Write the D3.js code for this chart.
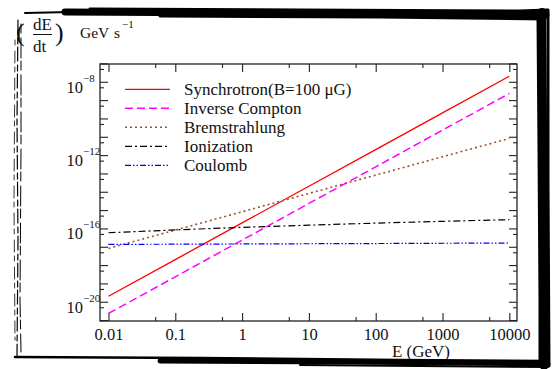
<!DOCTYPE html>
<html>
<head>
<meta charset="utf-8">
<script src="https://cdn.jsdelivr.net/npm/d3@7"></script>
<style>
  body { margin: 0; background: #fff; }
  svg text { font-family: "Liberation Serif", "DejaVu Serif", serif; fill: #111; }
</style>
</head>
<body>
<div id="chart"></div>
<script>
// Data
const energies = [0.01, 0.1, 1, 10, 100, 1000, 10000];
const synchrotron = [2.0e-20, 2.0e-18, 2.0e-16, 2.0e-14, 2.0e-12, 2.0e-10, 2.0e-8];
const inverseCompton = [2.3e-21, 2.3e-19, 2.3e-17, 2.3e-15, 2.3e-13, 2.3e-11, 2.3e-9];
const bremsstrahlung = [8.1e-18, 8.1e-17, 8.1e-16, 8.1e-15, 8.1e-14, 8.1e-13, 8.1e-12];
const ionization = [5.8e-17, 8.3e-17, 1.15e-16, 1.5e-16, 1.95e-16, 2.45e-16, 3.0e-16];
const coulomb = [1.35e-17, 1.38e-17, 1.42e-17, 1.46e-17, 1.5e-17, 1.55e-17, 1.6e-17];

const seriesNames = ["Synchrotron(B=100 \u03bcG)", "Inverse Compton", "Bremstrahlung", "Ionization", "Coulomb"];
const seriesValues = [synchrotron, inverseCompton, bremsstrahlung, ionization, coulomb];

const xMajorTicks = [0.01, 0.1, 1, 10, 100, 1000, 10000];
const xTickLabels = ["0.01", "0.1", "1", "10", "100", "1000", "10000"];
const xMinorTicks = [0.05, 0.5, 5, 50, 500, 5000];
const yMajorTicks = d3.range(-21, -6).map((p) => Math.pow(10, p));
const yMinorTicks = d3.range(-21, -7).map((p) => 5 * Math.pow(10, p));
const yLabelPowers = [-8, -12, -16, -20];

// Styles
const styles = [
  { color: "#ff0000", dash: null, width: 1.3 },
  { color: "#ff00ff", dash: "8,4", width: 1.5 },
  { color: "#a0522d", dash: "2,3", width: 1.6 },
  { color: "#000000", dash: "7,3,2,3", width: 1.2 },
  { color: "#0000ff", dash: "6,2,1.5,2,1.5,2", width: 1.2 },
];

// Dimensions
const dimensions = { width: 557, height: 369, left: 100, right: 517, top: 64, bottom: 321 };

const svg = d3
  .select("#chart")
  .append("svg")
  .attr("width", dimensions.width)
  .attr("height", dimensions.height);

const xScale = d3
  .scaleLog()
  .domain([Math.pow(10, -2.127), Math.pow(10, 4.115)])
  .range([dimensions.left, dimensions.right]);

const yScale = d3
  .scaleLog()
  .domain([Math.pow(10, -21.05), Math.pow(10, -7.03)])
  .range([dimensions.bottom, dimensions.top]);

// Axes
const axisColor = "#222";
function styleAxis(g) {
  g.select(".domain").remove();
  g.selectAll(".tick line").attr("stroke", axisColor).attr("stroke-width", 1.1);
}

svg.append("g")
  .attr("transform", `translate(0, ${dimensions.bottom})`)
  .call(d3.axisBottom(xScale).tickValues(xMajorTicks).tickSize(-8).tickPadding(7)
    .tickFormat((d, i) => xTickLabels[i]))
  .call(styleAxis)
  .call((g) => g.selectAll("text").attr("font-size", 16.5).attr("fill", "#111")
    .attr("font-family", "Liberation Serif, serif"));

svg.append("g")
  .attr("transform", `translate(0, ${dimensions.bottom})`)
  .call(d3.axisBottom(xScale).tickValues(xMinorTicks).tickSize(-4).tickFormat(""))
  .call(styleAxis);

svg.append("g")
  .attr("transform", `translate(0, ${dimensions.top})`)
  .call(d3.axisTop(xScale).tickValues(xMajorTicks).tickSize(-8).tickFormat(""))
  .call(styleAxis);

svg.append("g")
  .attr("transform", `translate(0, ${dimensions.top})`)
  .call(d3.axisTop(xScale).tickValues(xMinorTicks).tickSize(-4).tickFormat(""))
  .call(styleAxis);

[[d3.axisLeft, dimensions.left], [d3.axisRight, dimensions.right]].forEach(([axisFn, xPos]) => {
  svg.append("g")
    .attr("transform", `translate(${xPos}, 0)`)
    .call(axisFn(yScale).tickValues(yMajorTicks.filter((v) => yScale(v) <= dimensions.bottom && yScale(v) >= dimensions.top - 1))
      .tickSize(-8).tickFormat(""))
    .call(styleAxis);
  svg.append("g")
    .attr("transform", `translate(${xPos}, 0)`)
    .call(axisFn(yScale).tickValues(yMinorTicks.filter((v) => yScale(v) <= dimensions.bottom)).tickSize(-4).tickFormat(""))
    .call(styleAxis);
});

// Y tick labels 10^n
const yLabels = svg.append("g");
yLabelPowers.forEach((p) => {
  const yPos = yScale(Math.pow(10, p));
  yLabels.append("text")
    .attr("x", 83).attr("y", yPos + 11)
    .attr("text-anchor", "end").attr("font-size", 16.5)
    .text("10");
  yLabels.append("text")
    .attr("x", 83).attr("y", yPos)
    .attr("font-size", 11)
    .text("\u2212" + Math.abs(p));
});

// Frame
svg.append("rect")
  .attr("x", dimensions.left).attr("y", dimensions.top)
  .attr("width", dimensions.right - dimensions.left)
  .attr("height", dimensions.bottom - dimensions.top)
  .attr("fill", "none").attr("stroke", axisColor).attr("stroke-width", 1.3);

// Lines
const lineGenerator = d3.line()
  .x((d) => xScale(d[0]))
  .y((d) => yScale(d[1]));

seriesValues.forEach((values, i) => {
  svg.append("path")
    .datum(energies.map((e, j) => [e, values[j]]))
    .attr("d", lineGenerator)
    .attr("fill", "none")
    .attr("stroke", styles[i].color)
    .attr("stroke-width", styles[i].width)
    .attr("stroke-dasharray", styles[i].dash);
});

// Legend
const legend = svg.append("g");
seriesNames.forEach((name, i) => {
  const rowY = 89.3 + i * 19;
  legend.append("line")
    .attr("x1", 125).attr("x2", 170).attr("y1", rowY).attr("y2", rowY)
    .attr("stroke", styles[i].color)
    .attr("stroke-width", styles[i].width)
    .attr("stroke-dasharray", styles[i].dash);
  legend.append("text")
    .attr("x", 184).attr("y", rowY + 5.8)
    .attr("font-size", 17)
    .text(name);
});

// Axis titles
svg.append("text")
  .attr("x", 450).attr("y", 357)
  .attr("text-anchor", "end").attr("font-size", 17)
  .text("E (GeV)");

const yTitle = svg.append("g");
yTitle.append("text").attr("x", 16).attr("y", 41).attr("font-size", 26).attr("font-weight", 300).text("(");
yTitle.append("text").attr("x", 33).attr("y", 30).attr("font-size", 17).text("dE");
yTitle.append("line").attr("x1", 33).attr("x2", 52).attr("y1", 34.5).attr("y2", 34.5)
  .attr("stroke", "#111").attr("stroke-width", 1);
yTitle.append("text").attr("x", 33).attr("y", 52).attr("font-size", 17).text("dt");
yTitle.append("text").attr("x", 55).attr("y", 41).attr("font-size", 26).text(")");
yTitle.append("text").attr("x", 80).attr("y", 38).attr("font-size", 15.5).text("GeV");
yTitle.append("text").attr("x", 114).attr("y", 38).attr("font-size", 15.5).text("s");
yTitle.append("text").attr("x", 122).attr("y", 28).attr("font-size", 11).text("\u22121");

// Hand-drawn border (decoration)
const border = svg.append("g").attr("fill", "none").attr("stroke", "#000").attr("stroke-linecap", "round");
const brush = [
  // top
  { p: [[25, 13], [70, 12], [300, 12], [548, 13]], w: 2 },
  { p: [[65, 12], [250, 13], [450, 14], [546, 15]], w: 7 },
  { p: [[90, 9], [300, 10], [520, 11], [547, 10]], w: 3 },
  { p: [[160, 16], [380, 17], [545, 19]], w: 3 },
  // right
  { p: [[542, 12], [543, 120], [544, 250], [544, 366]], w: 8 },
  { p: [[538, 18], [539, 150], [540, 300], [540, 362]], w: 3 },
  { p: [[548, 10], [548, 180], [549, 366]], w: 3 },
  // bottom
  { p: [[15, 357], [200, 358], [400, 360], [548, 361]], w: 2.5 },
  { p: [[160, 361], [350, 362], [548, 364]], w: 5 },
  { p: [[300, 365], [548, 367]], w: 2 },
  // left
  { p: [[18, 20], [17, 120], [18, 240], [17, 356]], w: 1.2, dash: "14,4,6,3" },
  { p: [[21, 24], [21, 150], [20, 300], [21, 352]], w: 1, dash: "9,5,20,3" },
  { p: [[15, 40], [14, 200], [15, 340]], w: 0.8, dash: "5,6,12,4" },
];
const brushLine = d3.line().curve(d3.curveLinear);
brush.forEach((b) => {
  border.append("path")
    .attr("d", brushLine(b.p))
    .attr("stroke-width", b.w)
    .attr("stroke-dasharray", b.dash || null);
});
</script>
</body>
</html>
